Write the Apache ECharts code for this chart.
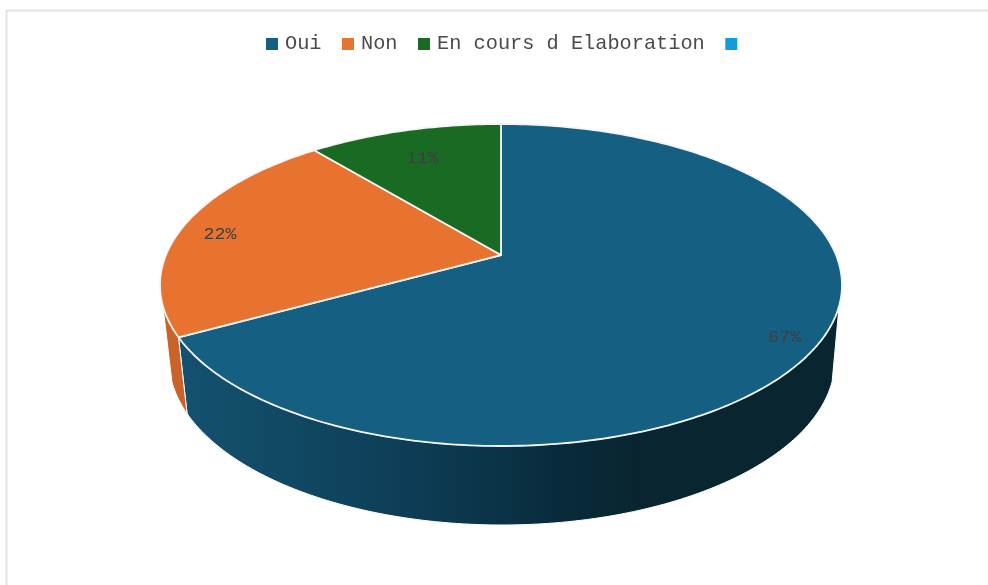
<!DOCTYPE html>
<html>
<head>
<meta charset="utf-8">
<title>Répartition</title>
<style>
  html, body { margin: 0; padding: 0; background: #fff; }
  #chart { width: 988px; height: 585px; }
</style>
<script src="https://cdn.jsdelivr.net/npm/echarts@6/dist/echarts.min.js"></script>
</head>
<body>
<div id="chart"></div>
<script>
// Slice shares, in percent, clockwise from twelve o'clock.
const categories = ['Oui', 'Non', 'En cours d Elaboration', ' '];
const shares = [67, 22, 11, 0];
const sliceColors = ['#156082', '#E8722F', '#196B24', '#0F9ED5'];
const labelDepths = [0.9, 0.88, 0.79, 0];
const labelDrop = 5;

// Perspective disc: the rim of each face is an ellipse, and the true centre
// of the disc projects above the middle of that ellipse (tilt < 0).
const topFace = { cx: 501, cy: 285, rx: 341, ry: 161 };
const bottomFace = { cx: 502, cy: 360, rx: 333, ry: 165 };
const tilt = -0.186;
// The side wall is visible between these bearings only.
const wallFrom = 108;
const wallTo = 252;

function project(face, bearing, depth) {
  const a = bearing * Math.PI / 180;
  const u = depth * Math.sin(a);
  const v = -depth * Math.cos(a);
  const w = 1 + tilt * v;
  return [
    face.cx + face.rx * u * Math.sqrt(1 - tilt * tilt) / w,
    face.cy + face.ry * (v + tilt) / w
  ];
}

function arc(face, from, to) {
  const pts = [];
  const steps = Math.max(2, Math.ceil(Math.abs(to - from)));
  for (let i = 0; i <= steps; i++) {
    pts.push(project(face, from + (to - from) * i / steps, 1));
  }
  return pts;
}

function shade(index, x0, x1) {
  if (index === 0) {
    return new echarts.graphic.LinearGradient(x0, 0, x1, 0, [
      { offset: 0, color: '#14516f' },
      { offset: 0.45, color: '#0e3f58' },
      { offset: 0.85, color: '#082a3a' },
      { offset: 1, color: '#09252f' }
    ], true);
  }
  return '#C96329';
}

function sliceRenderer(index) {
  const start = shares.slice(0, index).reduce((s, v) => s + v, 0) * 3.6;
  return function (params, api) {
    const value = api.value(0);
    if (!value) return null;
    const end = start + value * 3.6;
    const color = sliceColors[index];
    const children = [];

    const wallStart = Math.max(start, wallFrom);
    const wallEnd = Math.min(end, wallTo);
    if (wallEnd > wallStart) {
      children.push({
        type: 'polygon',
        z2: 1,
        shape: {
          points: arc(topFace, wallStart, wallEnd)
            .concat(arc(bottomFace, wallEnd, wallStart))
        },
        style: { fill: shade(index, 188, 640), stroke: '#ffffff', lineWidth: 1 }
      });
    }

    children.push({
      type: 'polygon',
      z2: 2,
      shape: { points: [project(topFace, 0, 0)].concat(arc(topFace, start, end)) },
      style: { fill: color, stroke: '#f4f4f4', lineWidth: 1.8, lineJoin: 'round' }
    });

    const mid = project(topFace, (start + end) / 2, labelDepths[index]);
    children.push({
      type: 'text',
      z2: 3,
      x: mid[0],
      y: mid[1] + labelDrop,
      scaleX: 1.14,
      style: {
        text: value + '%',
        font: '16px "Liberation Mono", monospace',
        fill: '#3f3f3f',
        align: 'center',
        verticalAlign: 'middle'
      }
    });
    return { type: 'group', children: children };
  };
}

const chart = echarts.init(document.getElementById('chart'), null, { renderer: 'canvas' });
chart.setOption({
  animation: false,
  backgroundColor: '#ffffff',
  graphic: [{
    type: 'rect',
    silent: true,
    shape: { x: 6.5, y: 10.5, width: 1100, height: 700 },
    style: { fill: 'none', stroke: '#e4e4e4', lineWidth: 2 }
  }],
  legend: {
    top: 29,
    left: 261,
    icon: 'rect',
    itemWidth: 12,
    itemHeight: 12,
    itemGap: 20.5,
    data: categories,
    textStyle: {
      fontFamily: '"Liberation Mono", monospace',
      fontSize: 20.3,
      color: '#4a4a4a',
      padding: [0, 0, 0, 2]
    }
  },
  series: categories.map((name, i) => ({
    type: 'custom',
    name: name,
    coordinateSystem: 'none',
    silent: true,
    itemStyle: { color: sliceColors[i] },
    data: [[shares[i]]],
    renderItem: sliceRenderer(i)
  }))
});
</script>
</body>
</html>
